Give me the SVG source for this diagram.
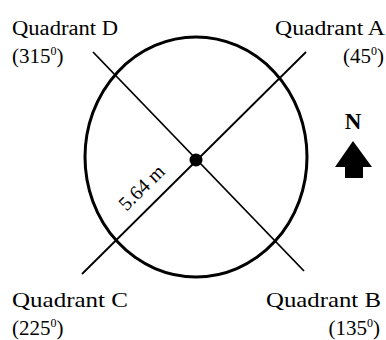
<svg xmlns="http://www.w3.org/2000/svg" width="386" height="340" viewBox="0 0 386 340">
<style>
.lbl{font-family:"Liberation Serif","Times New Roman",serif;fill:#000;}
.t{font-size:20px;}
.p{font-size:21px;}
.b{font-size:22px;}
.sup{font-size:12px;}
.ln{stroke:#000;stroke-width:1.8;fill:none;}
</style>
<rect width="386" height="340" fill="#fff"/>
<g id="plot">
<ellipse cx="196" cy="157" rx="111" ry="120" fill="none" stroke="#000" stroke-width="3"/>
</g>
<g id="connectors">
<line class="ln" x1="93" y1="52" x2="304" y2="271"/>
<line class="ln" x1="306" y1="52" x2="82" y2="274"/>
</g>
<g id="center">
<circle cx="196" cy="160" r="6.5" fill="#000"/>
</g>
<g id="radius-label">
<text class="lbl" font-size="20" transform="translate(142,188) rotate(-44.7)" x="0" y="6" text-anchor="middle">5.64 m</text>
</g>
<g id="quadrant-d">
<text class="lbl t" x="12" y="35" textLength="106" lengthAdjust="spacingAndGlyphs">Quadrant D</text>
<text class="lbl p" x="12" y="63">(315<tspan class="sup" dy="-8">0</tspan><tspan dy="8">)</tspan></text>
</g>
<g id="quadrant-a">
<text class="lbl t" x="275" y="35" textLength="110" lengthAdjust="spacingAndGlyphs">Quadrant A</text>
<text class="lbl p" x="384" y="63" text-anchor="end">(45<tspan class="sup" dy="-8">0</tspan><tspan dy="8">)</tspan></text>
</g>
<g id="quadrant-c">
<text class="lbl b" x="12" y="307" textLength="116" lengthAdjust="spacingAndGlyphs">Quadrant C</text>
<text class="lbl p" x="12" y="335">(225<tspan class="sup" dy="-8">0</tspan><tspan dy="8">)</tspan></text>
</g>
<g id="quadrant-b">
<text class="lbl b" x="266" y="307" textLength="115" lengthAdjust="spacingAndGlyphs">Quadrant B</text>
<text class="lbl p" x="380" y="335" text-anchor="end">(135<tspan class="sup" dy="-8">0</tspan><tspan dy="8">)</tspan></text>
</g>
<g id="north">
<text class="lbl" font-size="23" font-weight="bold" x="353" y="129" text-anchor="middle">N</text>
<polygon points="353,141 372,167 363,167 363,178 345,178 345,167 335,167" fill="#000"/>
</g>
</svg>
